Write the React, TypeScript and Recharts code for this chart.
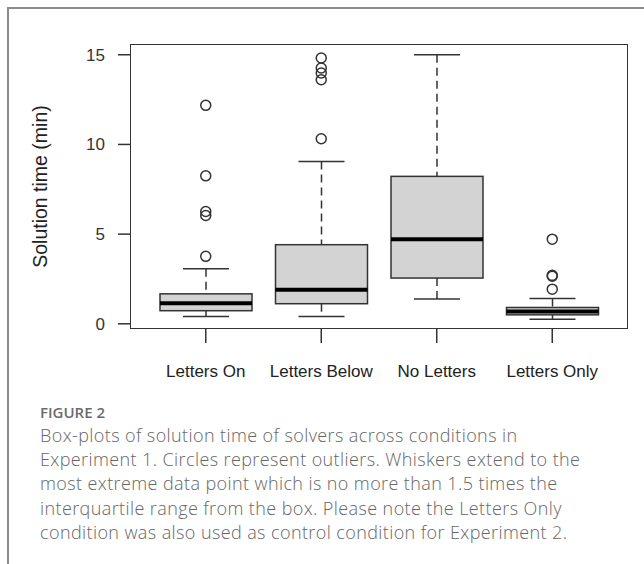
import React from "react";
import {
  ComposedChart,
  Bar,
  Scatter,
  XAxis,
  YAxis,
} from "recharts";

// conditions in Experiment 1
const categories = ["Letters On", "Letters Below", "No Letters", "Letters Only"];

// box-plot summary stats (minutes)
const lowerWhisker = [0.41, 0.41, 1.38, 0.26];
const quartile1 = [0.73, 1.12, 2.55, 0.5];
const medians = [1.15, 1.9, 4.72, 0.69];
const quartile3 = [1.67, 4.41, 8.22, 0.91];
const upperWhisker = [3.07, 9.05, 15.0, 1.41];

// outliers per condition
const outliersOn = [3.76, 6.04, 6.26, 8.25, 12.18];
const outliersBelow = [10.32, 13.61, 13.98, 14.26, 14.82];
const outliersNone: number[] = [];
const outliersOnly = [1.93, 2.65, 2.7, 4.72];

const yTicks = [0, 5, 10, 15];

const captionLines = [
  "Box-plots of solution time of solvers across conditions in",
  "Experiment 1. Circles represent outliers. Whiskers extend to the",
  "most extreme data point which is no more than 1.5 times the",
  "interquartile range from the box. Please note the Letters Only",
  "condition was also used as control condition for Experiment 2.",
];

const boxData = categories.map((name, i) => ({
  name,
  min: lowerWhisker[i],
  q1: quartile1[i],
  median: medians[i],
  q3: quartile3[i],
  max: upperWhisker[i],
}));

const outlierData = [outliersOn, outliersBelow, outliersNone, outliersOnly].flatMap(
  (vals, i) => vals.map((value) => ({ name: categories[i], value }))
);

const INK = "#333";
const SANS = "'Liberation Sans', Arial, sans-serif";

// draws a whole box + whiskers from the bar's [min, max] geometry
function BoxShape(props: any) {
  const { x, y, width, height, payload } = props;
  if (!payload || height == null) return null;
  const { min, q1, median, q3, max } = payload;
  const py = (v: number) => y + ((max - v) / (max - min)) * height;
  const cx = x + width / 2;
  const capHalf = width / 4;
  return (
    <g>
      <line x1={cx} x2={cx} y1={py(max)} y2={py(q3)} stroke={INK} strokeWidth={1.5} strokeDasharray="8 5" />
      <line x1={cx} x2={cx} y1={py(q1)} y2={py(min)} stroke={INK} strokeWidth={1.5} strokeDasharray="8 5" />
      <line x1={cx - capHalf} x2={cx + capHalf} y1={py(max)} y2={py(max)} stroke={INK} strokeWidth={1.5} />
      <line x1={cx - capHalf} x2={cx + capHalf} y1={py(min)} y2={py(min)} stroke={INK} strokeWidth={1.5} />
      <rect x={x} y={py(q3)} width={width} height={py(q1) - py(q3)} fill="#d3d3d3" stroke={INK} strokeWidth={1.5} />
      <line x1={x} x2={x + width} y1={py(median)} y2={py(median)} stroke="#000" strokeWidth={4} />
    </g>
  );
}

function OutlierShape(props: any) {
  const { cx, cy } = props;
  if (cx == null || cy == null) return null;
  return <circle cx={cx} cy={cy} r={5} fill="none" stroke={INK} strokeWidth={1.5} />;
}

export default function App() {
  return (
    <div
      style={{
        position: "absolute",
        left: 0,
        top: 0,
        width: 644,
        height: 564,
        background: "#fff",
        overflow: "hidden",
        fontFamily: SANS,
      }}
    >
      {/* page frame */}
      <div
        style={{
          position: "absolute",
          left: 7,
          top: 7,
          width: 700,
          height: 600,
          borderTop: "2px solid #8c8c8c",
          borderLeft: "2px solid #8c8c8c",
        }}
      />
      {/* plot box */}
      <div
        style={{
          position: "absolute",
          left: 130,
          top: 44,
          width: 498,
          height: 285,
          boxSizing: "border-box",
          border: `1.5px solid ${INK}`,
        }}
      />
      <div style={{ position: "absolute", left: 0, top: 0 }}>
        <ComposedChart
          width={644}
          height={390}
          data={boxData}
          margin={{ top: 44, right: 16, bottom: 11, left: 0 }}
        >
          <XAxis
            dataKey="name"
            type="category"
            allowDuplicatedCategory={false}
            padding={{ left: 18, right: 18 }}
            height={50}
            axisLine={false}
            tickLine={{ stroke: INK, strokeWidth: 1.5 }}
            tickSize={14}
            tickMargin={22}
            tick={{ fill: "#222", fontSize: 17, fontFamily: SANS }}
            interval={0}
          />
          <YAxis
            type="number"
            domain={[-0.29, 15.6]}
            allowDataOverflow
            ticks={yTicks}
            width={130}
            axisLine={false}
            tickLine={{ stroke: INK, strokeWidth: 1.5 }}
            tickSize={12}
            tickMargin={13}
            tick={{ fill: "#333", fontSize: 17, fontFamily: SANS }}
            label={{
              value: "Solution time (min)",
              angle: -90,
              position: "insideLeft",
              offset: 40,
              style: {
                textAnchor: "middle",
                fill: "#222",
                fontSize: 19.5,
                fontFamily: SANS,
              },
            }}
          />
          <Bar
            dataKey={(d: any) => [d.min, d.max]}
            barSize={92}
            shape={<BoxShape />}
            isAnimationActive={false}
          />
          <Scatter
            data={outlierData}
            dataKey="value"
            shape={<OutlierShape />}
            isAnimationActive={false}
          />
        </ComposedChart>
      </div>
      {/* caption */}
      <div
        style={{
          position: "absolute",
          left: 40,
          top: 402,
          fontFamily: "'Open Sans', sans-serif",
          fontWeight: 600,
          fontSize: 15,
          lineHeight: "20px",
          color: "#6b6b6b",
        }}
      >
        FIGURE 2
      </div>
      <div
        style={{
          position: "absolute",
          left: 40,
          top: 423,
          fontFamily: "'Open Sans', sans-serif",
          fontWeight: 300,
          fontSize: 18,
          letterSpacing: 0.4,
          lineHeight: "24.2px",
          color: "#666",
          whiteSpace: "nowrap",
        }}
      >
        {captionLines.map((line) => (
          <div key={line}>{line}</div>
        ))}
      </div>
    </div>
  );
}
